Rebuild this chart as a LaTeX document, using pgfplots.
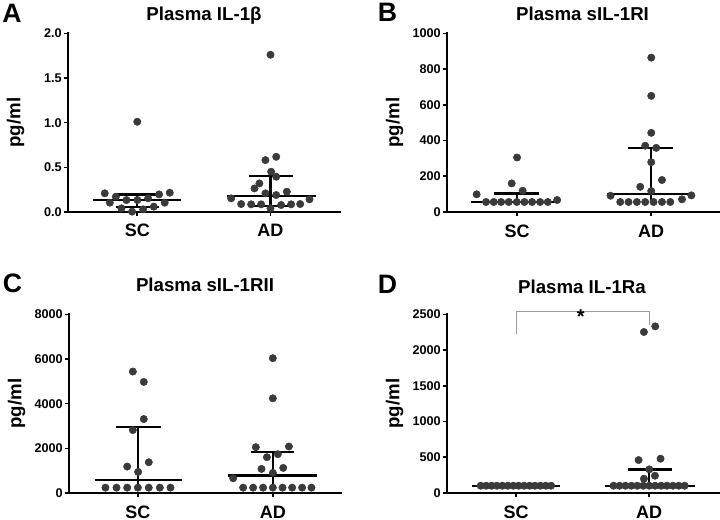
\documentclass[border=0pt]{standalone}
\usepackage{fontspec}
\setmainfont{Liberation Sans}
\usepackage{pgfplots}
\pgfplotsset{compat=1.18}
\definecolor{dot}{HTML}{3A3A3A}
\definecolor{brk}{HTML}{9A9A9A}

\pgfplotsset{
  panel/.style={
    scale only axis, width=203.5pt, height=134pt,
    axis lines=left, axis line style={-, line width=2.1pt, line cap=rect},
    tick align=outside, major tick length=3pt,
    tick style={line width=1.2pt, black},
    xtick={0,1}, xticklabels={SC,AD},
    xticklabel style={font=\bfseries\fontsize{13.5}{15}\selectfont, anchor=base, yshift=-15.75pt},
    yticklabel style={font=\bfseries\fontsize{9.5}{11}\selectfont, inner sep=1.5pt},
    /pgf/number format/assume math mode=true,
    /pgf/number format/1000 sep={},
    ymin=0, clip=false,
    ylabel={pg/ml},
    ylabel style={font=\bfseries\fontsize{14}{16}\selectfont, at={(axis description cs:-0.193,0.5)}, anchor=center},
  },
  dots/.style={only marks, mark=*, mark size=2.75pt, color=dot},
  bars/.style={no marks, black, line width=1.7pt, unbounded coords=jump},
}
\tikzset{
  ttl/.style={font=\bfseries\fontsize{14}{16}\selectfont, anchor=base, inner sep=0pt},
  lett/.style={font=\bfseries\fontsize{20}{22}\selectfont, anchor=center, inner sep=0pt},
}

% panel A: plasma IL-1beta
\pgfplotstableread{
x y
-0.244 0.209
-0.161 0.171
-0.206 0.104
-0.119 0.041
-0.081 0.134
-0.039 0.004
0.001 0.134
0.044 0.030
0.081 0.153
0.124 0.060
0.164 0.197
0.206 0.104
0.244 0.216
0.000 1.010
0.705 0.153
0.780 0.089
0.855 0.086
0.880 0.264
0.917 0.320
0.930 0.086
0.962 0.209
0.962 0.581
1.000 0.041
1.005 0.451
1.043 0.618
1.043 0.395
1.043 0.190
1.080 0.078
1.123 0.227
1.155 0.086
1.223 0.089
1.293 0.142
1.000 1.760
}\dataA

% panel B: plasma sIL-1RI
\pgfplotstableread{
x y
-0.301 99
-0.231 56
-0.174 56
-0.119 56
-0.062 56
-0.002 56
0.055 56
0.112 56
0.172 56
0.229 56
0.299 67
-0.040 160
0.042 119
0.000 305
0.697 91
0.769 56
0.831 56
0.893 56
0.955 56
1.017 56
1.080 56
1.142 56
1.229 71
1.299 93
0.918 141
1.000 117
1.080 179
1.000 279
0.955 371
1.037 359
1.000 443
1.000 650
1.000 864
}\dataB

% panel C: plasma sIL-1RII
\pgfplotstableread{
x y
-0.240 240
-0.158 240
-0.079 240
0.000 240
0.081 240
0.163 240
0.242 240
0.002 944
-0.079 1183
0.081 1378
-0.037 2817
0.044 3311
0.044 4974
-0.037 5438
0.780 240
0.854 240
0.928 240
1.000 240
1.072 240
1.143 240
1.217 240
1.286 240
0.706 660
1.000 900
0.916 1079
1.077 1124
0.956 1603
1.037 1738
0.874 2052
1.119 2082
1.000 4240
1.000 6037
}\dataC

% panel D: plasma IL-1Ra
\pgfplotstableread{
x y
-0.266 102
-0.225 102
-0.184 102
-0.144 102
-0.103 102
-0.062 102
-0.021 102
0.019 102
0.060 102
0.101 102
0.141 102
0.182 102
0.223 102
0.263 102
0.732 102
0.777 102
0.821 102
0.866 102
0.910 102
0.955 102
1.000 102
1.044 102
1.089 102
1.133 102
1.178 102
1.222 102
1.266 102
0.920 461
1.085 480
1.000 331
0.960 200
1.043 242
0.960 2253
1.045 2332
}\dataD

\begin{document}
\begin{tikzpicture}
\useasboundingbox (0,0) rectangle (540pt,-390pt);

\begin{axis}[panel, at={(51pt,-159pt)}, anchor=south west,
  xmin=-0.52, xmax=1.517, ymax=2, ytick={0,0.5,1,1.5,2},
  /pgf/number format/fixed, /pgf/number format/fixed zerofill, /pgf/number format/precision=1]
\addplot[dots] table {\dataA};
\addplot[bars] coordinates {(-0.33,0.134) (0.33,0.134) (nan,nan) (-0.16,0.197) (0.16,0.197) (nan,nan) (-0.16,0.052) (0.16,0.052) (nan,nan) (0,0.052) (0,0.197)};
\addplot[bars] coordinates {(0.67,0.182) (1.34,0.182) (nan,nan) (0.84,0.402) (1.17,0.402) (nan,nan) (0.84,0.07) (1.17,0.07) (nan,nan) (1,0.07) (1,0.402)};
\end{axis}

\begin{axis}[panel, at={(335.25pt,-159pt)}, anchor=south west,
  xmin=-0.522, xmax=1.5, ymax=1000, ytick={0,200,400,600,800,1000}]
\addplot[dots] table {\dataB};
\addplot[bars] coordinates {(-0.34,58) (0.32,58) (nan,nan) (-0.17,104) (0.16,104) (nan,nan) (0,56) (0,104)};
\addplot[bars] coordinates {(0.67,99) (1.32,99) (nan,nan) (0.83,359) (1.16,359) (nan,nan) (1,56) (1,359)};
\end{axis}

\begin{axis}[panel, at={(51.75pt,-369.75pt)}, anchor=south west,
  xmin=-0.51, xmax=1.5, ymax=8000, ytick={0,2000,4000,6000,8000}]
\addplot[dots] table {\dataC};
\addplot[bars] coordinates {(-0.32,584) (0.33,584) (nan,nan) (-0.16,2951) (0.17,2951) (nan,nan) (0,240) (0,2951)};
\addplot[bars] coordinates {(0.67,779) (1.33,779) (nan,nan) (0.84,1828) (1.16,1828) (nan,nan) (1,240) (1,1828)};
\end{axis}

\begin{axis}[panel, at={(335.25pt,-369.75pt)}, anchor=south west,
  xmin=-0.519, xmax=1.519, ymax=2500, ytick={0,500,1000,1500,2000,2500}]
\addplot[dots] table {\dataD};
\addplot[bars] coordinates {(-0.33,102) (0.33,102)};
\addplot[bars] coordinates {(0.67,102) (1.34,102) (nan,nan) (0.84,330) (1.17,330) (nan,nan) (1,102) (1,330)};
\addplot[no marks, brk, line width=0.8pt] coordinates {(0,2230) (0,2546) (1,2546) (1,2346)};
\node[font=\bfseries\fontsize{15}{16}\selectfont, inner sep=0pt] at (axis cs:0.486,2472) {*};
\end{axis}

\node[ttl] at (153pt,-15.5pt) {Plasma IL-1β};
\node[ttl] at (436.9pt,-15.5pt) {Plasma sIL-1RI};
\node[ttl] at (153.75pt,-218.8pt) {Plasma sIL-1RII};
\node[ttl] at (436.5pt,-220.1pt) {Plasma IL-1Ra};
\node[lett] at (9pt,-10pt) {A};
\node[lett] at (290.6pt,-9.2pt) {B};
\node[lett] at (9.4pt,-212.5pt) {C};
\node[lett] at (290.6pt,-213pt) {D};
\end{tikzpicture}
\end{document}
